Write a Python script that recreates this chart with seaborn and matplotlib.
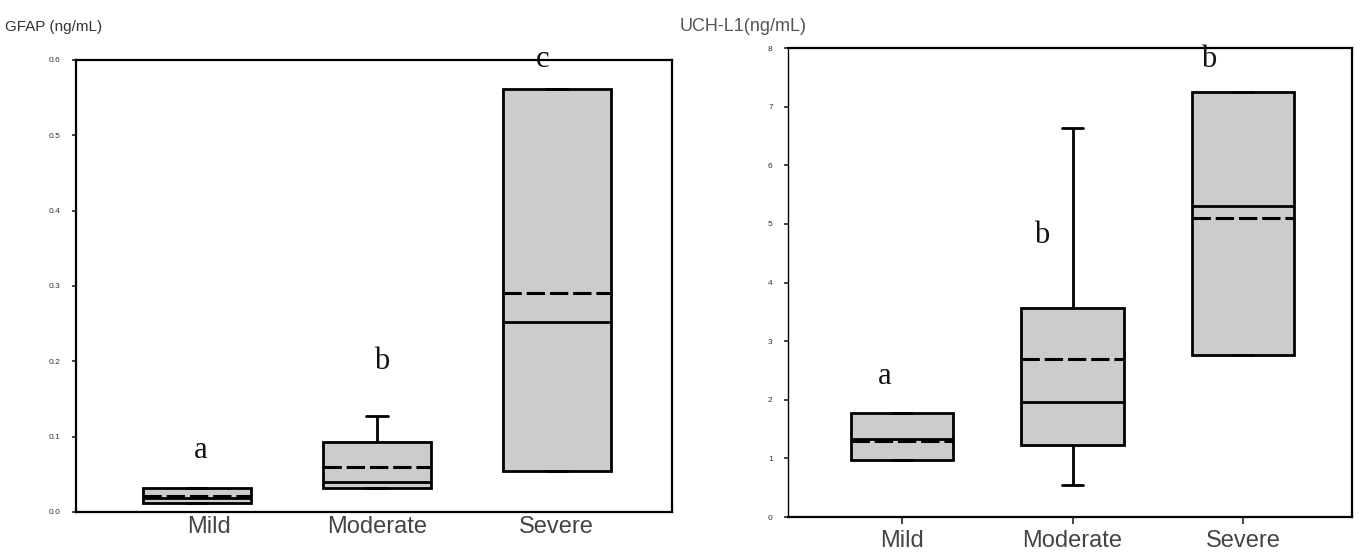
import numpy as np
import pandas as pd
import matplotlib
matplotlib.use("Agg")
import matplotlib.pyplot as plt
import seaborn as sns

sns.set_theme(style="white")
plt.rcParams['font.family'] = ['Liberation Sans', 'DejaVu Sans']

groups = ["Mild", "Moderate", "Severe"]

# GFAP (ng/mL): whisker low, Q1, median, Q3, whisker high, mean
gfap_low = [0.012, 0.032, 0.055]
gfap_q1 = [0.012, 0.032, 0.055]
gfap_med = [0.019, 0.040, 0.252]
gfap_q3 = [0.032, 0.093, 0.562]
gfap_high = [0.032, 0.128, 0.562]
gfap_mean = [0.021, 0.060, 0.291]
gfap_letters = ["a", "b", "c"]
gfap_letter_y = [0.062, 0.180, 0.582]

# UCH-L1 (ng/mL)
uch_low = [0.97, 0.55, 2.76]
uch_q1 = [0.97, 1.23, 2.76]
uch_med = [1.33, 1.96, 5.31]
uch_q3 = [1.77, 3.57, 7.25]
uch_high = [1.77, 6.64, 7.25]
uch_mean = [1.29, 2.70, 5.10]
uch_letters = ["a", "b", "b"]
uch_letter_y = [2.15, 4.55, 7.55]


def make_frame(low, q1, med, q3, high):
    rows = []
    for g, a, b, c, d, e in zip(groups, low, q1, med, q3, high):
        for v in (a, b, c, d, e):
            rows.append({"group": g, "value": v})
    return pd.DataFrame(rows)


def draw_panel(ax, df, means, letters, letter_y, letter_dx, ylim, yticks,
               ytick_fmt, label_dx):
    sns.boxplot(data=df, x="group", y="value", order=groups, ax=ax,
                whis=(0, 100), width=0.6, color="#cccccc", linecolor="black",
                linewidth=2, fill=True, saturation=1, capwidths=0.12)
    pos = np.arange(len(groups))
    ax.hlines(means, pos - 0.3, pos + 0.3, colors="black", linewidth=2.2,
              linestyles=(0, (6, 1.6)), zorder=5)
    for x, dx, lab, y in zip(pos, letter_dx, letters, letter_y):
        ax.text(x + dx, y, lab, ha="center", va="bottom", fontsize=22,
                family=["Liberation Serif", "DejaVu Serif"], color="#111111")
    ax.set_xlim(-0.67, 2.64)
    ax.set_ylim(*ylim)
    ax.set_yticks(yticks)
    ax.set_yticklabels([ytick_fmt.format(t) for t in yticks], fontsize=6,
                       color="#333333")
    ax.set_xticks(pos + np.array(label_dx))
    ax.set_xticklabels(groups, fontsize=17, color="#444444")
    ax.set_xlabel("")
    ax.set_ylabel("")
    for s in ax.spines.values():
        s.set_visible(True)
        s.set_color("black")
        s.set_linewidth(1.6)


fig = plt.figure(figsize=(13.6, 5.57), dpi=100)
ax1 = fig.add_axes([0.0559, 0.0808, 0.4382, 0.8115])
ax2 = fig.add_axes([0.5794, 0.0718, 0.4147, 0.8420])

draw_panel(ax1, make_frame(gfap_low, gfap_q1, gfap_med, gfap_q3, gfap_high),
           gfap_mean, gfap_letters, gfap_letter_y, [0.02, 0.03, -0.08],
           (0, 0.6), [0.0, 0.1, 0.2, 0.3, 0.4, 0.5, 0.6], "{:.1f}",
           [0.07, 0.0, 0.0])
ax1.tick_params(axis="y", left=True, length=3, width=1.2, pad=8)
ax1.tick_params(axis="x", bottom=False, pad=-3)

draw_panel(ax2, make_frame(uch_low, uch_q1, uch_med, uch_q3, uch_high),
           uch_mean, uch_letters, uch_letter_y, [-0.1, -0.18, -0.2],
           (0, 8), list(range(0, 9)), "{:d}", [0.0, 0.0, 0.0])
ax2.spines["left"].set_linewidth(1.0)
ax2.tick_params(axis="y", left=True, length=3, width=1.2, pad=8)
ax2.tick_params(axis="x", bottom=True, length=5, width=1.2, pad=4)

fig.text(0.004, 0.945, "GFAP (ng/mL)", fontsize=11, color="#333333")
fig.text(0.5, 0.945, "UCH-L1(ng/mL)", fontsize=13, color="#555555")

fig.savefig("out.png", dpi=100)
